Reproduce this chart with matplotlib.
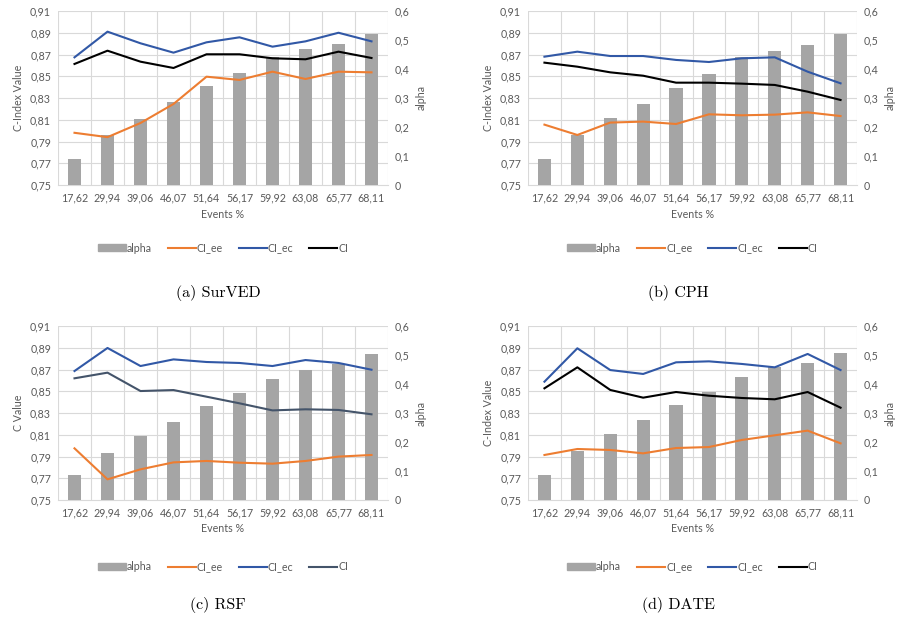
import numpy as np
import matplotlib.pyplot as plt
from matplotlib.patches import Patch
from matplotlib.lines import Line2D

plt.rcParams['font.family'] = ['Lato', 'DejaVu Sans']

events = ['17,62', '29,94', '39,06', '46,07', '51,64', '56,17', '59,92', '63,08', '65,77', '68,11']

# (a) SurVED
a_alpha = [0.088, 0.172, 0.226, 0.287, 0.341, 0.387, 0.443, 0.469, 0.486, 0.521]
a_ee = [0.798, 0.794, 0.807, 0.8245, 0.8496, 0.8466, 0.8542, 0.8475, 0.8542, 0.8536]
a_ec = [0.8674, 0.891, 0.8803, 0.8717, 0.8812, 0.8858, 0.8772, 0.8821, 0.890, 0.8821]
a_ci = [0.8613, 0.8735, 0.8634, 0.8576, 0.8702, 0.8702, 0.8665, 0.8656, 0.8726, 0.8668]

# (b) CPH
b_alpha = [0.088, 0.172, 0.23, 0.28, 0.333, 0.382, 0.44, 0.462, 0.484, 0.52]
b_ee = [0.8055, 0.796, 0.8074, 0.8083, 0.8061, 0.815, 0.8141, 0.8147, 0.8168, 0.8134]
b_ec = [0.868, 0.8726, 0.8686, 0.8686, 0.865, 0.8631, 0.8665, 0.8674, 0.8542, 0.8435]
b_ci = [0.8625, 0.8588, 0.8536, 0.8505, 0.8441, 0.8441, 0.8432, 0.842, 0.8358, 0.8282]

# (c) RSF
c_alpha = [0.086, 0.163, 0.222, 0.27, 0.323, 0.369, 0.417, 0.448, 0.468, 0.503]
c_ee = [0.7975, 0.769, 0.7782, 0.7846, 0.7859, 0.7843, 0.7834, 0.7859, 0.7899, 0.7914]
c_ec = [0.8686, 0.8898, 0.8732, 0.8793, 0.8769, 0.876, 0.8732, 0.8787, 0.876, 0.8698]
c_ci = [0.8619, 0.8671, 0.8502, 0.8511, 0.845, 0.8389, 0.8324, 0.8334, 0.8328, 0.8288]

# (d) DATE
d_alpha = [0.086, 0.169, 0.226, 0.277, 0.326, 0.372, 0.424, 0.457, 0.474, 0.506]
d_ee = [0.7914, 0.7969, 0.796, 0.7929, 0.7978, 0.7987, 0.8052, 0.8095, 0.8138, 0.8021]
d_ec = [0.8588, 0.8895, 0.8695, 0.8659, 0.8766, 0.8775, 0.8751, 0.872, 0.8843, 0.8695]
d_ci = [0.8527, 0.872, 0.8512, 0.8441, 0.8493, 0.8459, 0.8438, 0.8426, 0.8493, 0.8349]

W, H = 902, 628
fig = plt.figure(figsize=(W / 100, H / 100), dpi=100)

txt = '#595959'
grid = '#d9d9d9'
orange = '#ed7d31'
blue = '#3158a6'


def px_axes(left, top, right, bottom):
    return fig.add_axes([left / W, 1 - bottom / H, (right - left) / W, (bottom - top) / H])


def panel(box, alpha, ee, ec, ci, ci_color, ylabel, caption, cap_x, cap_y, leg_y):
    ax = px_axes(*box)
    x = np.arange(len(events))
    ax.set_xlim(-0.5, len(events) - 0.5)
    ax.set_ylim(0.75, 0.91)
    yt = np.arange(0.75, 0.9101, 0.02)
    ax.set_yticks(yt)
    ax.set_yticklabels([f'{v:.2f}'.replace('.', ',') for v in yt])
    ax.set_xticks(x)
    ax.set_xticklabels(events)
    # gridlines: horizontal at each tick, vertical between categories
    for v in yt[1:]:
        ax.axhline(v, color=grid, lw=0.8, zorder=0)
    for b in np.arange(-0.5, len(events), 1.0):
        ax.axvline(b, color=grid, lw=0.8, zorder=0)
    for s in ['top', 'left', 'right']:
        ax.spines[s].set_visible(False)
    ax.spines['bottom'].set_color(grid)
    ax.tick_params(length=0, labelsize=7.7, colors=txt, pad=5)
    ax.set_ylabel(ylabel, fontsize=7.7, color=txt, labelpad=4)
    ax.set_xlabel('Events %', fontsize=7.7, color=txt, labelpad=4)

    ax2 = ax.twinx()
    ax2.set_ylim(0, 0.6)
    at = np.arange(0, 0.601, 0.1)
    ax2.set_yticks(at)
    ax2.set_yticklabels(['0'] + [f'{v:.1f}'.replace('.', ',') for v in at[1:]])
    for s in ['top', 'left', 'right', 'bottom']:
        ax2.spines[s].set_visible(False)
    ax2.tick_params(length=0, labelsize=7.7, colors=txt, pad=5)
    ax2.set_ylabel('alpha', fontsize=7.7, color=txt, labelpad=4)
    ax2.bar(x, alpha, width=0.4, color='#a5a5a5', zorder=1)

    ax3 = ax.twinx()
    ax3.set_ylim(0.75, 0.91)
    ax3.axis('off')
    ax3.plot(x, ee, color=orange, lw=1.5)
    ax3.plot(x, ec, color=blue, lw=1.5)
    ax3.plot(x, ci, color=ci_color, lw=1.5)

    handles = [Patch(color='#a5a5a5'), Line2D([], [], color=orange, lw=1.5),
               Line2D([], [], color=blue, lw=1.5), Line2D([], [], color=ci_color, lw=1.5)]
    cx = (box[0] + box[2]) / 2
    fig.legend(handles, ['alpha', 'CI_ee', 'CI_ec', 'CI'], loc='center',
               bbox_to_anchor=(cx / W, 1 - leg_y / H), ncol=4, frameon=False,
               fontsize=7.7, labelcolor=txt, handlelength=2.6, handletextpad=0.1,
               columnspacing=1.5, handleheight=0.6)
    fig.text(cap_x / W, 1 - cap_y / H, caption, ha='center', va='center',
             fontsize=11.5, family='cmr10')


panel((58, 11, 388, 185), a_alpha, a_ee, a_ec, a_ci, 'black', 'C-Index Value',
      '(a) SurVED', 218, 293, 248)
panel((528, 11, 857, 185), b_alpha, b_ee, b_ec, b_ci, 'black', 'C-Index Value',
      '(b) CPH', 678, 293, 248)
panel((58, 326, 388, 500), c_alpha, c_ee, c_ec, c_ci, '#44546a', 'C Value',
      '(c) RSF', 218, 605, 567)
panel((528, 326, 857, 500), d_alpha, d_ee, d_ec, d_ci, 'black', 'C-Index Value',
      '(d) DATE', 678, 605, 567)

fig.savefig('out.png', dpi=100)
